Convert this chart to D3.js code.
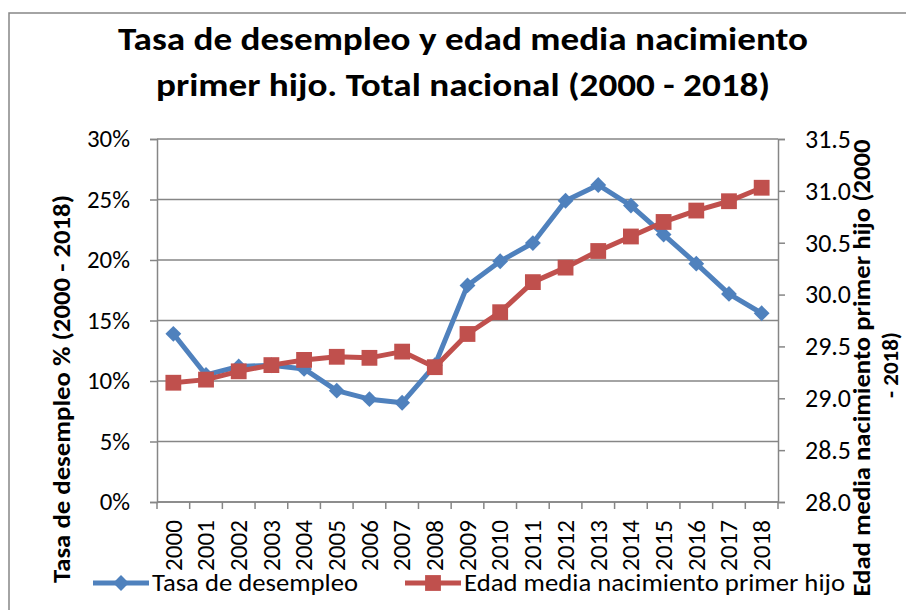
<!doctype html>
<html lang="es">
  <head>
    <meta charset="UTF-8" />
    <title>Tasa de desempleo y edad media nacimiento primer hijo</title>
    <style>
      body {
        margin: 0;
        background: #fff;
      }
      svg {
        display: block;
        font-family: Carlito, Lato, sans-serif;
      }
    </style>
  </head>
  <body>
    <svg id="chart" width="906" height="610"></svg>

    <script src="https://d3js.org/d3.v7.min.js"></script>
    <script>
      // data
      const years = [
        "2000", "2001", "2002", "2003", "2004", "2005", "2006", "2007", "2008", "2009",
        "2010", "2011", "2012", "2013", "2014", "2015", "2016", "2017", "2018",
      ];
      const desempleo = [
        0.139, 0.105, 0.112, 0.113, 0.110, 0.092, 0.085, 0.082, 0.113, 0.179,
        0.199, 0.214, 0.249, 0.262, 0.245, 0.221, 0.197, 0.172, 0.156,
      ];
      const edadMedia = [
        29.15, 29.18, 29.26, 29.32, 29.37, 29.40, 29.39, 29.45, 29.30, 29.62,
        29.83, 30.12, 30.26, 30.42, 30.56, 30.70, 30.81, 30.90, 31.03,
      ];
      const leftTicks = [0, 0.05, 0.1, 0.15, 0.2, 0.25, 0.3];
      const rightTicks = [28.0, 28.5, 29.0, 29.5, 30.0, 30.5, 31.0, 31.5];
      const titleLines = [
        "Tasa de desempleo y edad media nacimiento",
        "primer hijo. Total nacional (2000 - 2018)",
      ];
      const seriesNames = ["Tasa de desempleo", "Edad media nacimiento primer hijo"];

      const blue = "#4f81bd";
      const red = "#c0504d";
      const grey = "#868686";

      const svg = d3.select("#chart");

      const plot = { left: 157, right: 778, top: 139, bottom: 502 };

      const x = d3.scaleBand().domain(years).range([plot.left, plot.right]);
      const yL = d3.scaleLinear().domain([0, 0.3]).range([plot.bottom, plot.top]);
      const yR = d3.scaleLinear().domain([28, 31.5]).range([plot.bottom, plot.top]);

      // scale the font of a group of labels so the widest one is `target` px long
      function fitFont(sel, target) {
        let w = 0;
        sel.each(function () {
          w = Math.max(w, this.getComputedTextLength());
        });
        const fs = parseFloat(sel.attr("font-size"));
        if (w > 0) sel.attr("font-size", (fs * target) / w);
      }

      // outer chart border
      svg
        .append("rect")
        .attr("x", 9)
        .attr("y", 13)
        .attr("width", 950)
        .attr("height", 650)
        .attr("fill", "none")
        .attr("stroke", grey)
        .attr("stroke-width", 1.5);

      // title
      svg
        .append("g")
        .selectAll("text")
        .data(titleLines)
        .join("text")
        .attr("x", 463)
        .attr("y", (d, i) => 50 + i * 46)
        .attr("text-anchor", "middle")
        .attr("font-size", 33)
        .attr("font-weight", "bold")
        .attr("textLength", (d, i) => (i === 0 ? 690 : 614))
        .attr("lengthAdjust", "spacingAndGlyphs")
        .text((d) => d);

      // gridlines
      svg
        .append("g")
        .selectAll("line")
        .data(leftTicks)
        .join("line")
        .attr("x1", plot.left)
        .attr("x2", plot.right)
        .attr("y1", (d) => yL(d))
        .attr("y2", (d) => yL(d))
        .attr("stroke", grey)
        .attr("stroke-width", 1.5);

      // left axis
      const leftAxis = svg
        .append("g")
        .attr("transform", `translate(${plot.left},0)`)
        .call(d3.axisLeft(yL).tickValues(leftTicks).tickFormat(d3.format(".0%")).tickSize(7).tickPadding(20));
      // right axis
      const rightAxis = svg
        .append("g")
        .attr("transform", `translate(${plot.right},0)`)
        .call(d3.axisRight(yR).tickValues(rightTicks).tickFormat(d3.format(".1f")).tickSize(7).tickPadding(20));

      [leftAxis, rightAxis].forEach((a) => {
        a.attr("font-family", null);
        a.select(".domain").attr("stroke", grey).attr("stroke-width", 1.5);
        a.selectAll(".tick line").attr("stroke", grey).attr("stroke-width", 1.5);
        a.selectAll(".tick text").attr("font-size", 25).attr("fill", "#000");
      });
      fitFont(leftAxis.selectAll(".tick text"), 43);
      fitFont(rightAxis.selectAll(".tick text"), 46);

      // bottom axis: ticks between categories
      const bounds = years.map((d) => x(d)).concat([plot.right]);
      svg
        .append("line")
        .attr("x1", plot.left)
        .attr("x2", plot.right)
        .attr("y1", plot.bottom)
        .attr("y2", plot.bottom)
        .attr("stroke", grey)
        .attr("stroke-width", 1.5);
      svg
        .append("g")
        .selectAll("line")
        .data(bounds)
        .join("line")
        .attr("x1", (d) => d)
        .attr("x2", (d) => d)
        .attr("y1", plot.bottom)
        .attr("y2", plot.bottom + 7)
        .attr("stroke", grey)
        .attr("stroke-width", 1.5);
      const yearLabels = svg
        .append("g")
        .selectAll("text")
        .data(years)
        .join("text")
        .attr("transform", (d) => `translate(${x(d) + x.bandwidth() / 2},${plot.bottom + 18}) rotate(-90)`)
        .attr("text-anchor", "end")
        .attr("dy", "0.33em")
        .attr("font-size", 25)
        .text((d) => d);
      fitFont(yearLabels, 51);

      // axis titles
      svg
        .append("text")
        .attr("transform", "translate(70,389) rotate(-90)")
        .attr("text-anchor", "middle")
        .attr("font-size", 24)
        .attr("font-weight", "bold")
        .attr("textLength", 388)
        .attr("lengthAdjust", "spacingAndGlyphs")
        .text("Tasa de desempleo % (2000 - 2018)");
      svg
        .append("text")
        .attr("transform", "translate(870,368) rotate(-90)")
        .attr("text-anchor", "middle")
        .attr("font-size", 24)
        .attr("font-weight", "bold")
        .attr("textLength", 457)
        .attr("lengthAdjust", "spacingAndGlyphs")
        .text("Edad media nacimiento primer hijo (2000");
      svg
        .append("text")
        .attr("transform", "translate(898,365) rotate(-90)")
        .attr("text-anchor", "middle")
        .attr("font-size", 23)
        .attr("font-weight", "bold")
        .text("- 2018)");

      const cx = (d, i) => x(years[i]) + x.bandwidth() / 2;
      const diamond = d3.symbol().type(d3.symbolDiamond2).size(160);
      const square = d3.symbol().type(d3.symbolSquare).size(250);

      // series 1: desempleo
      svg
        .append("path")
        .datum(desempleo)
        .attr("fill", "none")
        .attr("stroke", blue)
        .attr("stroke-width", 5)
        .attr("stroke-linejoin", "round")
        .attr("d", d3.line().x(cx).y((d) => yL(d)));
      svg
        .append("g")
        .selectAll("path")
        .data(desempleo)
        .join("path")
        .attr("transform", (d, i) => `translate(${cx(d, i)},${yL(d)})`)
        .attr("d", diamond)
        .attr("fill", blue);

      // series 2: edad media
      svg
        .append("path")
        .datum(edadMedia)
        .attr("fill", "none")
        .attr("stroke", red)
        .attr("stroke-width", 5)
        .attr("stroke-linejoin", "round")
        .attr("d", d3.line().x(cx).y((d) => yR(d)));
      svg
        .append("g")
        .selectAll("path")
        .data(edadMedia)
        .join("path")
        .attr("transform", (d, i) => `translate(${cx(d, i)},${yR(d)})`)
        .attr("d", square)
        .attr("fill", red);

      // legend
      const legendY = 583;
      const legend = [
        { name: seriesNames[0], color: blue, shape: diamond, x0: 93, width: 206 },
        { name: seriesNames[1], color: red, shape: square, x0: 405, width: 381 },
      ];
      const lg = svg.append("g").selectAll("g").data(legend).join("g");
      lg.append("line")
        .attr("x1", (d) => d.x0)
        .attr("x2", (d) => d.x0 + 56)
        .attr("y1", legendY)
        .attr("y2", legendY)
        .attr("stroke", (d) => d.color)
        .attr("stroke-width", 5);
      lg.append("path")
        .attr("transform", (d) => `translate(${d.x0 + 28},${legendY})`)
        .attr("d", (d) => d.shape())
        .attr("fill", (d) => d.color);
      lg.append("text")
        .attr("x", (d) => d.x0 + 59)
        .attr("y", legendY)
        .attr("dy", "0.33em")
        .attr("font-size", 25)
        .attr("textLength", (d) => d.width)
        .attr("lengthAdjust", "spacingAndGlyphs")
        .text((d) => d.name);
    </script>
  </body>
</html>
